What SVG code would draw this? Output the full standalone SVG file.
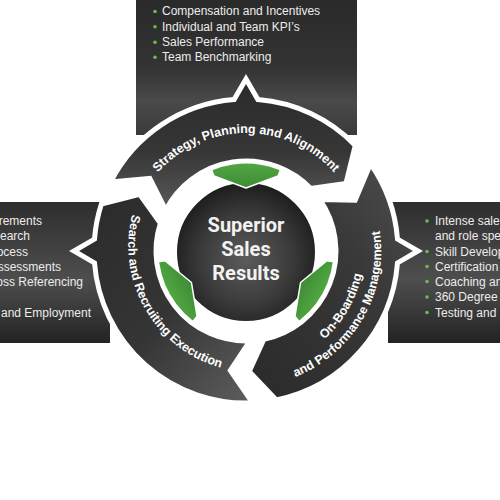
<svg xmlns="http://www.w3.org/2000/svg" xmlns:xlink="http://www.w3.org/1999/xlink" width="500" height="500" viewBox="0 0 500 500">
  <defs>
    <style>
      .ptext { font-family: "Liberation Sans", Arial, sans-serif; font-size: 12px; fill: #ececec; }
      .bullet { fill: #6cbd45; }
      .arrow { stroke: #ffffff; stroke-width: 5; stroke-linejoin: miter; }
      .atext { font-family: "Liberation Sans", Arial, sans-serif; font-weight: bold; font-size: 12.5px; fill: #ffffff; }
      .ctext { font-family: Roboto, "Liberation Sans", Arial, sans-serif; font-weight: bold; font-size: 20px; fill: #f2f2f2; text-anchor: middle; }
      .tab { stroke: #ffffff; stroke-width: 1.5; stroke-linejoin: round; }
    </style>
    <linearGradient id="gTopPanel" x1="0" y1="0" x2="0" y2="1">
      <stop offset="0" stop-color="#2a2a2a"/>
      <stop offset="0.5" stop-color="#333333"/>
      <stop offset="0.75" stop-color="#4a4a4a"/>
      <stop offset="1" stop-color="#3a3a3a"/>
    </linearGradient>
    <linearGradient id="gSidePanel" x1="0" y1="0" x2="0" y2="1">
      <stop offset="0" stop-color="#2e2e2e"/>
      <stop offset="0.55" stop-color="#4e4e4e"/>
      <stop offset="1" stop-color="#232323"/>
    </linearGradient>
    <linearGradient id="gArrowTop" x1="0" y1="0" x2="0" y2="1">
      <stop offset="0" stop-color="#2a2a2a"/>
      <stop offset="0.55" stop-color="#363636"/>
      <stop offset="1" stop-color="#5a5a5a"/>
    </linearGradient>
    <linearGradient id="gArrowLeft" x1="0" y1="0" x2="1" y2="1">
      <stop offset="0" stop-color="#2a2a2a"/>
      <stop offset="0.55" stop-color="#353535"/>
      <stop offset="1" stop-color="#5e5e5e"/>
    </linearGradient>
    <linearGradient id="gArrowRight" x1="0" y1="1" x2="1" y2="0">
      <stop offset="0" stop-color="#2a2a2a"/>
      <stop offset="0.6" stop-color="#383838"/>
      <stop offset="1" stop-color="#505050"/>
    </linearGradient>
    <radialGradient id="gCircle" cx="0.5" cy="0.55" r="0.55">
      <stop offset="0" stop-color="#5c5c5c"/>
      <stop offset="0.6" stop-color="#3a3a3a"/>
      <stop offset="1" stop-color="#1c1c1c"/>
    </radialGradient>
    <linearGradient id="gGreen" x1="0" y1="0" x2="0" y2="1">
      <stop offset="0" stop-color="#5cb348"/>
      <stop offset="1" stop-color="#3d8c34"/>
    </linearGradient>
    <path id="tab" class="tab" d="M-42,-100 L42,-100 L32,-75 L0,-63 L-32,-75 Z" fill="url(#gGreen)"/>
    <path id="tpTop" d="M129.8,230.5 A118,118 0 0 1 362.2,230.5"/>
    <path id="tpLeft" d="M166.3,156.0 A126,126 0 0 0 288.4,367.5"/>
    <path id="tpRightOuter" d="M199.8,377.9 A135,135 0 0 0 332.8,147.6"/>
    <path id="tpRightInner" d="M205.7,361.9 A118,118 0 0 0 321.8,160.6"/>
  </defs>

  <rect x="0" y="0" width="500" height="500" fill="#ffffff"/>

  <g id="panel-top">
    <rect x="136" y="0" width="221" height="135" fill="url(#gTopPanel)"/>
    <circle class="bullet" cx="155" cy="11.5" r="1.8"/>
    <circle class="bullet" cx="155" cy="26.8" r="1.8"/>
    <circle class="bullet" cx="155" cy="42.3" r="1.8"/>
    <circle class="bullet" cx="155" cy="57.3" r="1.8"/>
    <text class="ptext" x="162" y="15.3">Compensation and Incentives</text>
    <text class="ptext" x="162" y="30.7">Individual and Team KPI’s</text>
    <text class="ptext" x="162" y="46.3">Sales Performance</text>
    <text class="ptext" x="162" y="61.3">Team Benchmarking</text>
  </g>

  <g id="panel-left">
    <rect x="0" y="202" width="110" height="141" fill="url(#gSidePanel)"/>
    <text class="ptext" x="42" y="225" text-anchor="end">rements</text>
    <text class="ptext" x="30" y="240" text-anchor="end">earch</text>
    <text class="ptext" x="28" y="255.5" text-anchor="end">ocess</text>
    <text class="ptext" x="61" y="270.5" text-anchor="end">ssessments</text>
    <text class="ptext" x="83" y="285.5" text-anchor="end">oss Referencing</text>
    <text class="ptext" x="91" y="316.5" text-anchor="end">and Employment</text>
  </g>

  <g id="panel-right">
    <rect x="388" y="202" width="112" height="141" fill="url(#gSidePanel)"/>
    <circle class="bullet" cx="427" cy="221" r="1.8"/>
    <circle class="bullet" cx="427" cy="251.5" r="1.8"/>
    <circle class="bullet" cx="427" cy="266.5" r="1.8"/>
    <circle class="bullet" cx="427" cy="281.5" r="1.8"/>
    <circle class="bullet" cx="427" cy="297" r="1.8"/>
    <circle class="bullet" cx="427" cy="312.5" r="1.8"/>
    <text class="ptext" x="435" y="225">Intense sale</text>
    <text class="ptext" x="435" y="240">and role spe</text>
    <text class="ptext" x="435" y="255.5">Skill Develop</text>
    <text class="ptext" x="435" y="270.5">Certification</text>
    <text class="ptext" x="435" y="285.5">Coaching an</text>
    <text class="ptext" x="435" y="301">360 Degree</text>
    <text class="ptext" x="435" y="316.5">Testing and</text>
  </g>

  <g id="center">
    <circle cx="246" cy="252" r="70" fill="url(#gCircle)" stroke="#ffffff" stroke-width="2"/>
  </g>

  <g id="green-tabs">
    <use xlink:href="#tab" transform="translate(246,251)"/>
    <use xlink:href="#tab" transform="translate(246,251) rotate(120)"/>
    <use xlink:href="#tab" transform="translate(246,251) rotate(240)"/>
  </g>

  <g id="center-label">
    <text class="ctext" x="246" y="232">Superior</text>
    <text class="ctext" x="246" y="256">Sales</text>
    <text class="ctext" x="246" y="280">Results</text>
  </g>

  <g id="arrow-top">
    <path class="arrow" fill="url(#gArrowTop)" d="M110.6,182.0 A152,152 0 0 1 234.1,99.5 L246,79 L257.9,99.5 A152,152 0 0 1 355.3,145.4 L345.9,183.6 L310.7,188.5 A90,90 0 0 0 165.8,210.1 L149.8,178.5 Z"/>
    <text class="atext"><textPath xlink:href="#tpTop" startOffset="50%" text-anchor="middle">Strategy, Planning and Alignment</textPath></text>
  </g>

  <g id="arrow-right">
    <path class="arrow" fill="url(#gArrowRight)" d="M370.5,163.8 A152,152 0 0 1 397.5,239.1 L418,251 L397.5,262.9 A152,152 0 0 1 276.3,399.9 L249.2,371.5 L263.9,339.2 A90,90 0 0 0 319.7,199.4 L355.2,200.1 Z"/>
    <text class="atext"><textPath xlink:href="#tpRightInner" startOffset="50%" text-anchor="middle">On-Boarding</textPath></text>
    <text class="atext"><textPath xlink:href="#tpRightOuter" startOffset="50%" text-anchor="middle">and Performance Management</textPath></text>
  </g>

  <g id="arrow-left">
    <path class="arrow" fill="url(#gArrowLeft)" d="M252.6,402.9 A152,152 0 0 1 94.5,262.9 L74,251 L94.5,239.1 A152,152 0 0 1 101.4,204.0 L139.6,194.4 L160.4,223.2 A90,90 0 0 0 249.9,340.9 L230.3,370.5 Z"/>
    <text class="atext"><textPath xlink:href="#tpLeft" startOffset="50%" text-anchor="middle">Search and Recruiting Execution</textPath></text>
  </g>
</svg>
